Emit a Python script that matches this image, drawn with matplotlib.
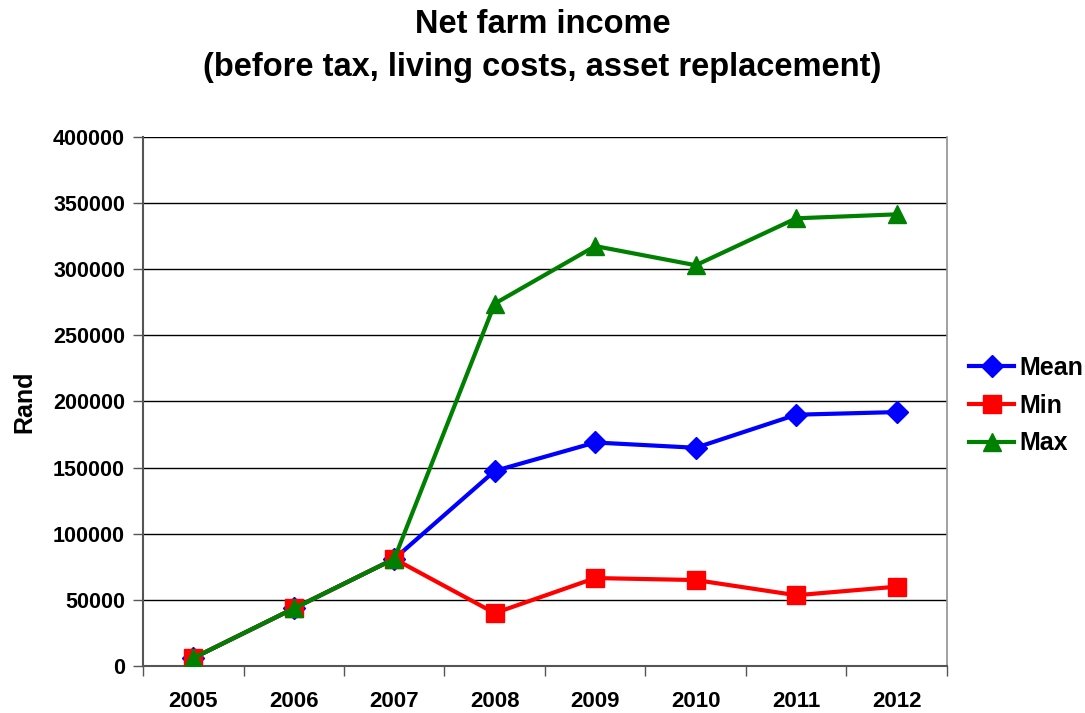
import matplotlib
matplotlib.use("Agg")
import matplotlib.pyplot as plt
import numpy as np

plt.rcParams['font.family'] = ['Liberation Sans', 'DejaVu Sans']
plt.rcParams['font.weight'] = 'bold'

years = ["2005", "2006", "2007", "2008", "2009", "2010", "2011", "2012"]
mean_income = [6000, 43500, 81000, 147500, 169000, 165000, 190000, 192000]
min_income = [6000, 43500, 81000, 40000, 66500, 65000, 53500, 60000]
max_income = [6000, 43500, 81000, 274000, 317500, 303000, 338500, 341500]
y_ticks = [0, 50000, 100000, 150000, 200000, 250000, 300000, 350000, 400000]

fig = plt.figure(figsize=(10.85, 7.13), dpi=100)
ax = fig.add_axes([0.1318, 0.0659, 0.7410, 0.7420])

x = np.arange(len(years))
ax.plot(x, mean_income, color='#0000FF', lw=3, marker='D', ms=11,
        label='Mean', zorder=3)
ax.plot(x, min_income, color='#FF0000', lw=3, marker='s', ms=12.5,
        label='Min', zorder=4)
ax.plot(x, max_income, color='#008000', lw=3, marker='^', ms=13.5,
        label='Max', zorder=5)

ax.set_xlim(-0.5, len(years) - 0.5)
ax.set_ylim(0, 400000)
ax.set_yticks(y_ticks)
ax.set_yticklabels([str(v) for v in y_ticks], fontsize=15.5, fontweight='bold')
ax.set_xticks(np.arange(-0.5, len(years)), minor=False)
ax.set_xticklabels([])
ax.set_xticks(x, minor=True)
ax.set_xticklabels(years, minor=True, fontsize=16, fontweight='bold')
ax.tick_params(axis='x', which='major', direction='out', length=7, width=1,
               color='#555555')
ax.tick_params(axis='x', which='minor', length=0, pad=18)
ax.tick_params(axis='y', direction='out', length=7, width=1, color='#555555',
               pad=6)

ax.yaxis.grid(True, color='black', lw=1)
ax.set_axisbelow(True)
for side in ['left', 'bottom']:
    ax.spines[side].set_color('#555555')
    ax.spines[side].set_linewidth(1.5)
ax.spines['right'].set_color('#909090')
ax.spines['right'].set_linewidth(1.2)
ax.spines['top'].set_visible(False)

ax.set_ylabel('Rand', fontsize=18, fontweight='bold', labelpad=12)

fig.suptitle('Net farm income\n(before tax, living costs, asset replacement)',
             fontsize=23.5, fontweight='bold', y=0.987, linespacing=1.5)

leg = ax.legend(loc='center left', bbox_to_anchor=(1.0, 0.492), frameon=False,
                fontsize=18, handlelength=1.8, handletextpad=0.2,
                labelspacing=0.55, borderaxespad=0.5)
for t in leg.get_texts():
    t.set_fontweight('bold')

fig.savefig('out.png', dpi=100, facecolor='white')
